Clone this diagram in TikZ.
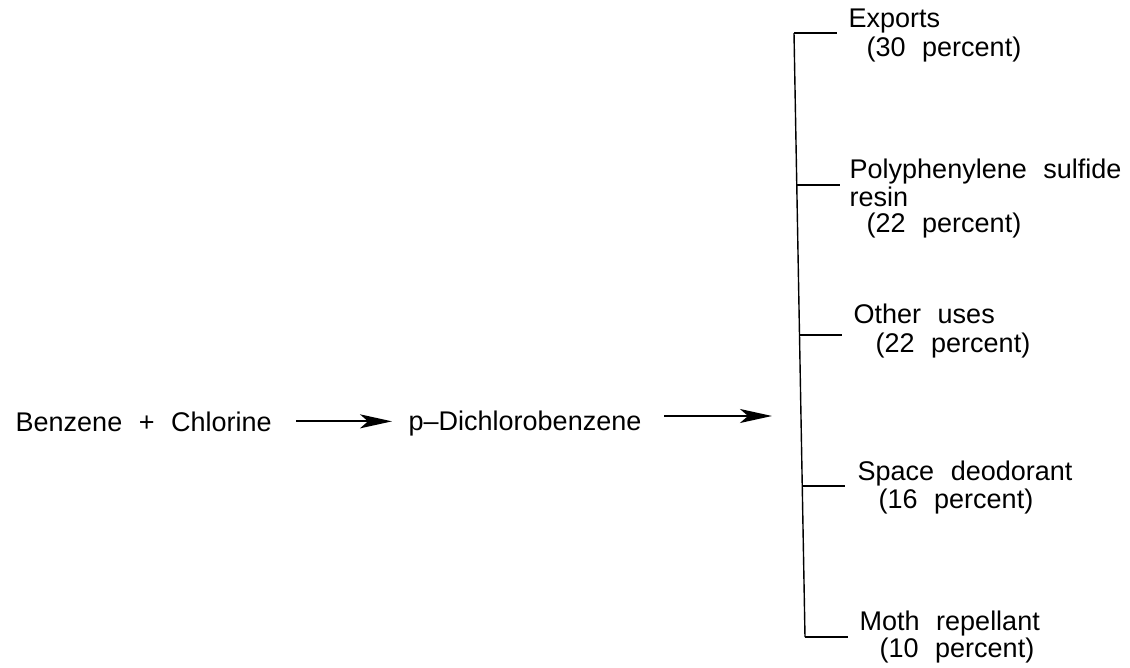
\documentclass[tikz,border=0pt]{standalone}
\usepackage{fontspec}
\setmainfont[WordSpace=2.2]{Liberation Sans}
\usetikzlibrary{arrows.meta}

\begin{document}
\begin{tikzpicture}[x=0.5pt,y=-0.5pt,line width=0.7pt,
		font=\fontsize{13.5}{16}\selectfont,
		nodes={inner sep=0pt,anchor=base west},
		flow/.style={-{Stealth[length=16pt,width=7pt,inset=4pt]},line width=1pt}]
	\useasboundingbox (0,0) rectangle (1130,668);
	% reaction line
	\node (ben) at (15,431) {Benzene + Chlorine};
	\node (pdcb) at (408,430) {p--Dichlorobenzene};
	\coordinate (hub) at (772,416);
	\draw[flow] ([xshift=12pt]ben.east) -- ([xshift=-8pt]pdcb.west |- ben.east);
	\draw[flow] ([xshift=11pt]pdcb.east |- hub) -- (hub);
	% bracket of uses
	\coordinate (top) at (794,33);
	\coordinate (bot) at (805,637);
	\coordinate (b2) at (797,185);
	\coordinate (b3) at (800,335);
	\coordinate (b4) at (803,486);
	\draw (top) -- (bot);
	\coordinate (t1) at (837,33);
	\coordinate (t2) at (840,185);
	\coordinate (t3) at (842,335);
	\coordinate (t4) at (845,486);
	\coordinate (t5) at (848,637);
	\draw (top) -- (t1);
	\draw (b2) -- (t2);
	\draw (b3) -- (t3);
	\draw (b4) -- (t4);
	\draw (bot) -- (t5);
	% labels
	\node (u1) at (848,28) {Exports};
	\node (p1) at (866,57) {(30 percent)};
	\node (u2) at (849,179) {Polyphenylene sulfide};
	\node (u2b) at (849,207) {resin};
	\node (p2) at (866,233) {(22 percent)};
	\node (u3) at (853,323) {Other uses};
	\node (p3) at (875,352) {(22 percent)};
	\node (u4) at (857,480) {Space deodorant};
	\node (p4) at (878,508) {(16 percent)};
	\node (u5) at (859,630) {Moth repellant};
	\node (p5) at (879,657) {(10 percent)};
\end{tikzpicture}
\end{document}
